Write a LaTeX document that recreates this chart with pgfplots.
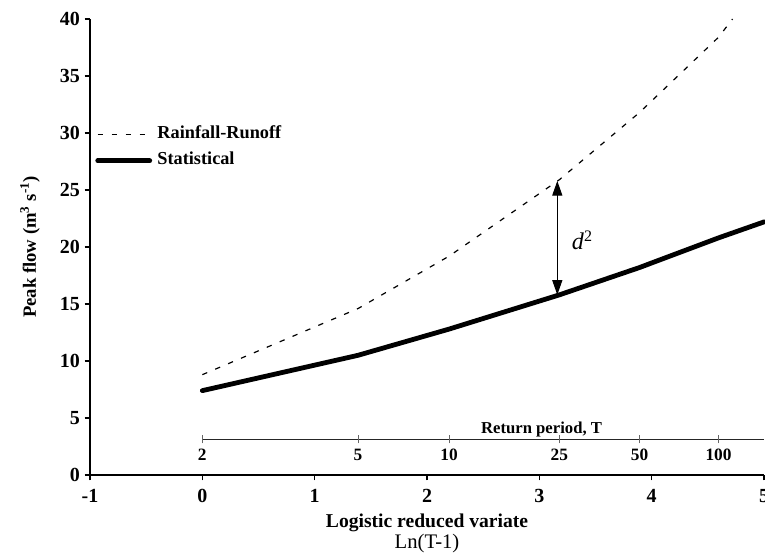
\documentclass[border=0pt]{standalone}
\usepackage{fontspec}
\setmainfont{Liberation Serif}
\usepackage{pgfplots}
\pgfplotsset{compat=1.18}
\usetikzlibrary{arrows.meta}

\begin{document}
\begin{tikzpicture}
\begin{axis}[
  at={(0,0)}, anchor=south west,
  scale only axis, width=505.5pt, height=342pt,
  xmin=-1, xmax=5, ymin=0, ymax=40,
  axis lines*=left,
  axis line style={line width=1.5pt},
  xtick={-1,0,1,2,3,4,5}, ytick={0,5,10,15,20,25,30,35,40},
  tick align=outside, major tick length=4pt,
  major tick style={line width=1.2pt, black},
  tick label style={font=\fontsize{15}{17}\selectfont\bfseries},
  xticklabel style={yshift=-3pt},
  /pgf/number format/assume math mode=true,
  ylabel={Peak flow (m\textsuperscript{3} s\textsuperscript{-1})},
  ylabel style={font=\fontsize{14}{16}\selectfont\bfseries, at={(axis description cs:-0.089,0.5)}, anchor=center},
  xlabel={{\fontsize{14.7}{14}\selectfont\bfseries Logistic reduced variate}\\[0.5pt]{\fontsize{15.5}{14}\selectfont Ln(T-1)}},
  xlabel style={font=\fontsize{14.7}{13.5}\selectfont, at={(axis description cs:0.5,-0.0855)}, anchor=north, align=center, inner sep=0pt},
  clip=false,
  legend style={at={(axis cs:-0.955,28.7)}, anchor=west, draw=none, fill=none, inner sep=0pt,
    row sep=7.5pt, font=\fontsize{13.7}{15}\selectfont\bfseries,
    nodes={inner sep=0pt, text height=9pt, text depth=3pt},
    /tikz/every odd column/.append style={column sep=4pt}},
  legend cell align=left,
  legend image code/.code={\draw[#1] (0pt,0pt) -- (39pt,0pt);},
]
\addplot[black, line width=0.9pt, dash pattern=on 4pt off 6.5pt] coordinates {
  (0,8.8) (1.386,14.6) (2.197,19.2) (3.178,25.9) (3.892,31.8) (4.595,38.4) (4.72,40)
};
\addlegendentry{Rainfall-Runoff}
\addplot[black, line width=3.6pt, line cap=round, line join=round] coordinates {
  (0,7.4) (1.386,10.5) (2.197,12.8) (3.178,15.8) (3.892,18.2) (4.595,20.8) (5,22.2)
};
\addlegendentry{Statistical}

% secondary return-period scale
\draw[line width=0.8pt, black!85] (axis cs:0,3.13) -- (axis cs:5,3.13);
\draw[line width=0.5pt, black!60] ([yshift=-3pt]axis cs:0,3.13) -- ([yshift=3pt]axis cs:0,3.13);
\draw[line width=0.5pt, black!60] ([yshift=-3pt]axis cs:1.386,3.13) -- ([yshift=3pt]axis cs:1.386,3.13);
\draw[line width=0.5pt, black!60] ([yshift=-3pt]axis cs:2.197,3.13) -- ([yshift=3pt]axis cs:2.197,3.13);
\draw[line width=0.5pt, black!60] ([yshift=-3pt]axis cs:3.178,3.13) -- ([yshift=3pt]axis cs:3.178,3.13);
\draw[line width=0.5pt, black!60] ([yshift=-3pt]axis cs:3.892,3.13) -- ([yshift=3pt]axis cs:3.892,3.13);
\draw[line width=0.5pt, black!60] ([yshift=-3pt]axis cs:4.595,3.13) -- ([yshift=3pt]axis cs:4.595,3.13);
\begin{scope}[every node/.style={font=\fontsize{13}{15}\selectfont\bfseries, anchor=north, inner sep=0pt, yshift=-7pt}]
\node at (axis cs:0,3.13) {2};
\node at (axis cs:1.386,3.13) {5};
\node at (axis cs:2.197,3.13) {10};
\node at (axis cs:3.178,3.13) {25};
\node at (axis cs:3.892,3.13) {50};
\node at (axis cs:4.595,3.13) {100};
\end{scope}
\node[font=\fontsize{12.5}{15}\selectfont\bfseries, anchor=base, inner sep=0pt] at (axis cs:3.02,3.68) {Return period, T};

% d^2 arrow
\draw[{Triangle[length=11pt,width=7.5pt]}-{Triangle[length=11pt,width=7.5pt]}, line width=0.8pt]
  (axis cs:3.16,25.8) -- (axis cs:3.16,15.8);
\node[inner sep=0pt] at (axis cs:3.38,20.6) {\fontsize{18}{18}\selectfont\textit{d}\raisebox{0.75ex}{\fontsize{12}{12}\selectfont 2}};
\end{axis}
\pgfresetboundingbox
\path (-67.5pt,-59.25pt) rectangle (506.25pt,356.25pt);
\end{tikzpicture}
\end{document}
